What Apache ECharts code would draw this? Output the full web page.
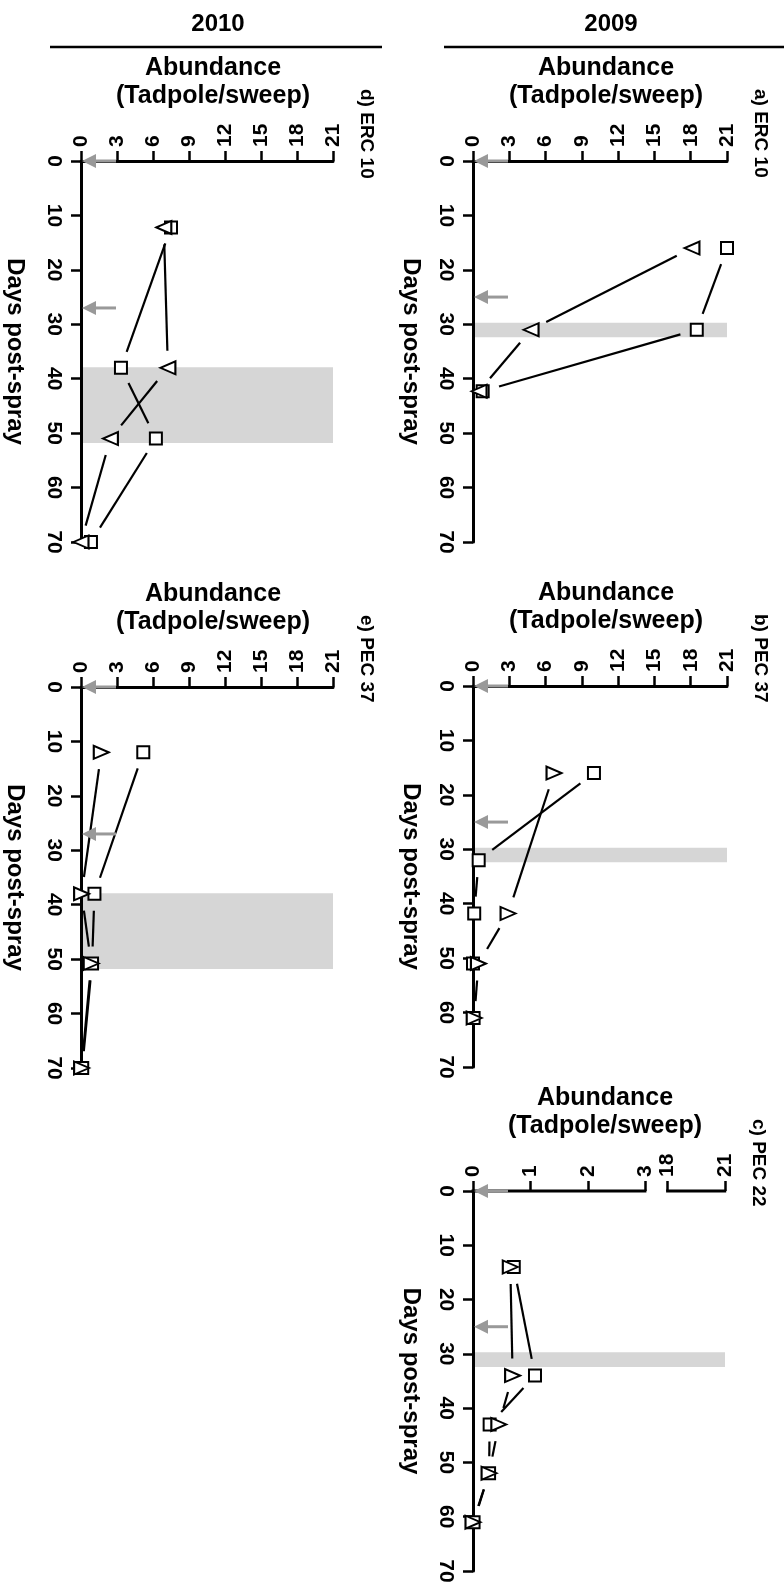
<!DOCTYPE html>
<html><head><meta charset="utf-8">
<script src="https://cdn.jsdelivr.net/npm/echarts@6/dist/echarts.min.js"></script>
<style>html,body{margin:0;padding:0;background:#fff}#c{width:784px;height:1585px}</style>
</head><body><div id="c"></div>
<script>
// ---------------- data ----------------
const yearLabels = ['2009', '2010'];
const panelTitles = ['a) ERC 10', 'b) PEC 37', 'c) PEC 22', 'd) ERC 10', 'e) PEC 37'];
const abundanceName = 'Abundance\n(Tadpole/sweep)';
const daysName = 'Days post-spray';
const pec22TickValues = [0, 1, 2, 3, 18, 21];
const pec22TickLabels = ['0', '1', '2', '3', '18', '21'];

// a) ERC 10, 2009
const aSquareDays = [16, 31, 42.3];
const aSquareVals = [21.0, 18.5, 0.8];
const aTriDays = [16, 31, 42.3];
const aTriVals = [18.1, 4.8, 0.5];
// b) PEC 37, 2009
const bSquareDays = [16, 32, 41.8, 51, 61];
const bSquareVals = [10.0, 0.47, 0.1, 0.0, 0.05];
const bTriDays = [16, 41.8, 51, 61];
const bTriVals = [6.7, 2.9, 0.45, 0.1];
// c) PEC 22, 2009
const cSquareDays = [14, 34, 43, 52, 61];
const cSquareVals = [0.71, 1.08, 0.29, 0.28, 0.01];
const cTriDays = [14, 34, 43, 52, 61];
const cTriVals = [0.65, 0.69, 0.45, 0.28, 0.0];
// d) ERC 10, 2010
const dSquareDays = [12.2, 38, 51, 70];
const dSquareVals = [7.5, 3.33, 6.24, 0.83];
const dTriDays = [12.2, 38, 51, 70];
const dTriVals = [6.9, 7.24, 2.45, 0.0];
// e) PEC 37, 2010
const eSquareDays = [12, 38, 50.8, 70];
const eSquareVals = [5.19, 1.12, 0.92, 0.1];
const eTriDays = [12, 38, 50.8, 70];
const eTriVals = [1.69, 0.05, 0.85, 0.05];

// spray events (days) and shaded periods (days)
const sprayDays2009 = [0, 25];
const sprayDays2010 = [0, 27];
const band2009 = [29.7, 32.4];
const band2010 = [37.9, 51.8];

// ---------------- helpers ----------------
const FONT = '"Liberation Sans", Arial, Helvetica, sans-serif';
const mapPlain = v => v;
const PEC22_GAP = 0.39, PEC22_UPPER_SCALE = 1 / 3;
const mapPec22 = v => v <= 3 ? v : 3 + PEC22_GAP + (v - 18) * PEC22_UPPER_SCALE;

const panels = [
  {title: panelTitles[0], sq: [aSquareDays, aSquareVals], tr: [aTriDays, aTriVals], triRot: 90, dayGap: 50,
   spray: sprayDays2009, band: band2009, grid: {left: 473, top: 161, width: 254, height: 381}, map: mapPlain},
  {title: panelTitles[1], sq: [bSquareDays, bSquareVals], tr: [bTriDays, bTriVals], triRot: -90, dayGap: 50,
   spray: sprayDays2009, band: band2009, grid: {left: 473, top: 686, width: 254, height: 381}, map: mapPlain},
  {title: panelTitles[2], sq: [cSquareDays, cSquareVals], tr: [cTriDays, cTriVals], triRot: -90, dayGap: 50,
   spray: sprayDays2009, band: band2009, grid: {left: 473, top: 1191, width: 252, height: 380}, map: mapPec22, broken: true},
  {title: panelTitles[3], sq: [dSquareDays, dSquareVals], tr: [dTriDays, dTriVals], triRot: 90, dayGap: 54,
   spray: sprayDays2010, band: band2010, grid: {left: 81, top: 161, width: 252, height: 381}, map: mapPlain},
  {title: panelTitles[4], sq: [eSquareDays, eSquareVals], tr: [eTriDays, eTriVals], triRot: -90, dayGap: 54,
   spray: sprayDays2010, band: band2010, grid: {left: 81, top: 687, width: 252, height: 381}, map: mapPlain}
];

const boldText = (size) => ({color: '#000', fontFamily: FONT, fontWeight: 'bold', fontSize: size});

function renderSeg(params, api) {
  const p1 = api.coord([api.value(0), api.value(1)]);
  const p2 = api.coord([api.value(2), api.value(3)]);
  const dx = p2[0] - p1[0], dy = p2[1] - p1[1];
  const len = Math.hypot(dx, dy);
  const cut = 17;
  if (len <= 2 * cut + 2) return null;
  const ux = dx / len, uy = dy / len;
  return {type: 'line', shape: {x1: p1[0] + ux * cut, y1: p1[1] + uy * cut, x2: p2[0] - ux * cut, y2: p2[1] - uy * cut},
    style: {stroke: '#000', lineWidth: 2.2}};
}
function renderBand(params, api) {
  const a = api.coord([api.value(0), api.value(1)]);
  const b = api.coord([api.value(2), api.value(3)]);
  return {type: 'rect', shape: {x: Math.min(a[0], b[0]), y: Math.min(a[1], b[1]),
    width: Math.abs(b[0] - a[0]), height: Math.abs(b[1] - a[1])}, style: {fill: '#d6d6d6'}};
}
function renderArrow(params, api) {
  const p = api.coord([api.value(0), api.value(1)]);
  return {type: 'group', children: [
    {type: 'line', shape: {x1: p[0] + 12, y1: p[1], x2: p[0] + 35, y2: p[1]}, style: {stroke: '#999', lineWidth: 3}},
    {type: 'polygon', shape: {points: [[p[0] + 1, p[1]], [p[0] + 15, p[1] - 7], [p[0] + 15, p[1] + 7]]}, style: {fill: '#999'}}
  ]};
}
function renderAxisPiece(params, api) {
  const a = api.coord([api.value(0), api.value(1)]);
  const b = api.coord([api.value(2), api.value(3)]);
  return {type: 'line', shape: {x1: a[0] - 1.5, y1: a[1], x2: b[0] + 1.2, y2: b[1]}, style: {stroke: '#000', lineWidth: 3}};
}

function segData(days, vals, map) {
  const out = [];
  for (let i = 1; i < days.length; i++) out.push([map(vals[i - 1]), days[i - 1], map(vals[i]), days[i]]);
  return out;
}
function ptData(days, vals, map) { return days.map((d, i) => [map(vals[i]), d]); }

const grids = [], xAxes = [], yAxes = [], series = [], graphics = [];

panels.forEach((p, i) => {
  grids.push(Object.assign({outerBoundsMode: 'none', containLabel: false}, p.grid));
  const xMax = p.map(21);
  const xa = {
    gridIndex: i, type: 'value', position: 'top', min: 0, max: xMax, z: 3,
    axisLine: {show: !p.broken, onZero: false, lineStyle: {color: '#000', width: 3}},
    axisTick: {show: true, length: 10, lineStyle: {color: '#000', width: 2.5}},
    axisLabel: Object.assign({rotate: -90, margin: 14}, boldText(21)),
    splitLine: {show: false},
    name: abundanceName, nameLocation: 'middle', nameGap: 51,
    nameTextStyle: Object.assign({lineHeight: 28, padding: [0, 0, 0, 12]}, boldText(25))
  };
  if (p.broken) {
    const pos = pec22TickValues.map(mapPec22);
    xa.axisTick.customValues = pos;
    xa.axisLabel.customValues = pos;
    xa.axisLabel.formatter = v => {
      let k = 0, best = Infinity;
      pos.forEach((q, j) => { if (Math.abs(q - v) < best) { best = Math.abs(q - v); k = j; } });
      return pec22TickLabels[k];
    };
  } else {
    xa.interval = 3;
  }
  xAxes.push(xa);
  yAxes.push({
    gridIndex: i, type: 'value', position: 'left', inverse: true, min: 0, max: 70, interval: 10, z: 3,
    axisLine: {show: true, onZero: false, lineStyle: {color: '#000', width: 3}},
    axisTick: {show: true, length: 10, lineStyle: {color: '#000', width: 2.5}},
    axisLabel: Object.assign({rotate: -90, margin: 17}, boldText(21)),
    splitLine: {show: false},
    name: daysName, nameLocation: 'middle', nameRotate: -90, nameGap: p.dayGap,
    nameTextStyle: boldText(24)
  });
  const ax = {xAxisIndex: i, yAxisIndex: i, coordinateSystem: 'cartesian2d'};
  series.push(Object.assign({type: 'custom', name: 'period', renderItem: renderBand, clip: false, z: 1,
    encode: {x: [0, 2], y: [1, 3]}, data: [[0, p.band[0], xMax, p.band[1]]]}, ax));
  if (p.broken) {
    series.push(Object.assign({type: 'custom', name: 'axis', renderItem: renderAxisPiece, clip: false, z: 3,
      encode: {x: [0, 2], y: [1, 3]},
      data: [[mapPec22(0), 0, mapPec22(3), 0], [mapPec22(18), 0, mapPec22(21), 0]]}, ax));
  }
  series.push(Object.assign({type: 'custom', name: 'sq-line', renderItem: renderSeg, clip: false, z: 4,
    encode: {x: [0, 2], y: [1, 3]}, data: segData(p.sq[0], p.sq[1], p.map)}, ax));
  series.push(Object.assign({type: 'custom', name: 'tri-line', renderItem: renderSeg, clip: false, z: 4,
    encode: {x: [0, 2], y: [1, 3]}, data: segData(p.tr[0], p.tr[1], p.map)}, ax));
  series.push(Object.assign({type: 'scatter', name: 'square', symbol: 'rect', symbolSize: 12, clip: false, z: 5,
    itemStyle: {color: '#fff', borderColor: '#000', borderWidth: 2, opacity: 1},
    data: ptData(p.sq[0], p.sq[1], p.map)}, ax));
  series.push(Object.assign({type: 'scatter', name: 'triangle', symbol: 'triangle', symbolSize: [13, 15],
    symbolRotate: p.triRot, clip: false, z: 6,
    itemStyle: {color: '#fff', borderColor: '#000', borderWidth: 2, opacity: 1},
    data: ptData(p.tr[0], p.tr[1], p.map)}, ax));
  series.push(Object.assign({type: 'custom', name: 'spray', renderItem: renderArrow, clip: false, z: 7,
    encode: {x: 0, y: 1}, data: p.spray.map(d => [0, d])}, ax));

  graphics.push({type: 'text', x: p.grid.left + p.grid.width + 33, y: p.grid.top - 72, rotation: -Math.PI / 2,
    style: {text: p.title, fill: '#000', font: 'bold 19px ' + FONT, textAlign: 'left', textVerticalAlign: 'middle',
      align: 'left', verticalAlign: 'middle'}});
});

// year headers and rules
[[yearLabels[1], 218, 50, 382], [yearLabels[0], 611, 444, 784]].forEach(([t, cx, l, r]) => {
  graphics.push({type: 'text', x: cx, y: 24, style: {text: t, fill: '#000', font: 'bold 24px ' + FONT,
    textAlign: 'center', textVerticalAlign: 'middle', align: 'center', verticalAlign: 'middle'}});
  graphics.push({type: 'line', shape: {x1: l, y1: 47, x2: r, y2: 47}, style: {stroke: '#000', lineWidth: 2.5}});
});

const chart = echarts.init(document.getElementById('c'), null, {renderer: 'canvas'});
chart.setOption({
  animation: false,
  backgroundColor: '#fff',
  grid: grids, xAxis: xAxes, yAxis: yAxes, series: series, graphic: graphics
});
</script></body></html>
